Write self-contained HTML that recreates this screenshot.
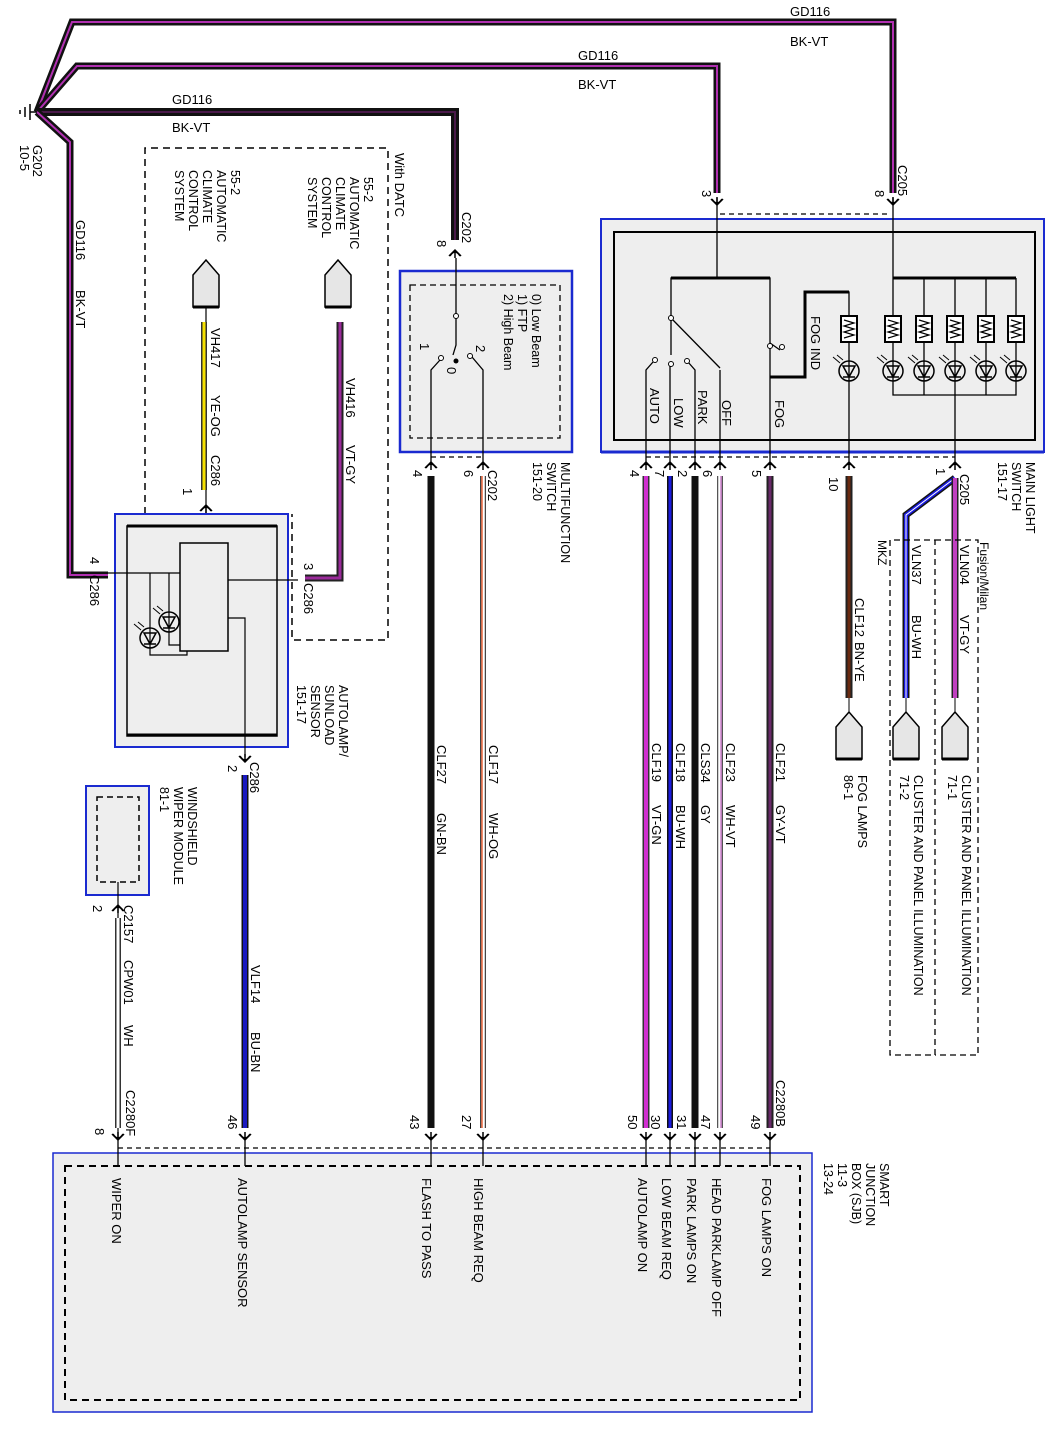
<!DOCTYPE html>
<html><head><meta charset="utf-8"><style>
html,body{margin:0;padding:0;background:#fff;}
svg{display:block;font-family:"Liberation Sans",sans-serif;font-size:13px;}
</style></head><body>
<svg width="1059" height="1435" viewBox="0 0 1059 1435" xmlns="http://www.w3.org/2000/svg">
<defs>
<g id="pd"><path d="M-6,6 L0,0 L6,6 M0,0 L0,8 M-5,6 Q0,-2 5,6" fill="none" stroke="#000" stroke-width="1.5"/></g>
<g id="pu"><path d="M-6,-6 L0,0 L6,-6 M0,0 L0,-8 M-5,-6 Q0,2 5,-6" fill="none" stroke="#000" stroke-width="1.5"/></g>
<g id="cn"><path d="M-13,15 L0,0 L13,15 L13,47 L-13,47 Z" fill="#e6e6e6" stroke="#000" stroke-width="1.5"/><line x1="-13" y1="47" x2="13" y2="47" stroke="#000" stroke-width="3"/></g>
<g id="led"><circle r="10" fill="none" stroke="#000" stroke-width="1.5"/><path d="M-6,-5 L6,-5 L0,6 Z M-6,6 L6,6" fill="none" stroke="#000" stroke-width="1.5"/><path d="M-16,-14 L-9,-8 M-12,-16 L-6,-11" stroke="#000" stroke-width="1"/></g>
<g id="res"><rect x="-8" y="-13" width="16" height="26" fill="#fff" stroke="#000" stroke-width="2"/><path d="M-5,-9 L5,-6 L-5,-3 L5,0 L-5,3 L5,6 L-5,9" fill="none" stroke="#000" stroke-width="1.2"/></g>
</defs>

<!-- ground wires -->
<g fill="none" stroke-linejoin="miter">
<path d="M37,112 L72,22 L893,22 L893,193" stroke="#111" stroke-width="7"/>
<path d="M37,112 L72,22 L893,22 L893,193" stroke="#b030b0" stroke-width="2"/>
<path d="M37,112 L77,66 L717,66 L717,193" stroke="#111" stroke-width="7"/>
<path d="M37,112 L77,66 L717,66 L717,193" stroke="#b030b0" stroke-width="2"/>
<path d="M37,112 L455,112 L455,240" stroke="#111" stroke-width="8"/>
<path d="M37,112 L455,112 L455,240" stroke="#4a1a4a" stroke-width="2"/>
<path d="M37,112 L70,142 L70,575 L108,575" stroke="#111" stroke-width="7"/>
<path d="M37,112 L70,142 L70,575 L108,575" stroke="#b030b0" stroke-width="2"/>
</g>
<path d="M30,104 L30,120 M25,107 L25,117 M20,110 L20,114 M30,112 L37,112" stroke="#000" stroke-width="1.5"/>
<text x="790" y="16">GD116</text><text x="790" y="46">BK-VT</text>
<text x="578" y="60">GD116</text><text x="578" y="89">BK-VT</text>
<text x="172" y="104">GD116</text><text x="172" y="132">BK-VT</text>
<text transform="translate(33,145) rotate(90)">G202</text>
<text transform="translate(20,145) rotate(90)">10-5</text>
<text transform="translate(76,220) rotate(90)">GD116</text>
<text transform="translate(76,290) rotate(90)">BK-VT</text>

<!-- With DATC dashed box -->
<path d="M145,514 L145,148 L388,148 L388,640 L292,640 L292,514" fill="none" stroke="#000" stroke-width="1.5" stroke-dasharray="7,5"/>
<text transform="translate(395,153) rotate(90)">With DATC</text>
<g font-size="12.5">
<text transform="translate(231,170) rotate(90)">55-2</text>
<text transform="translate(217,170) rotate(90)">AUTOMATIC</text>
<text transform="translate(203,170) rotate(90)">CLIMATE</text>
<text transform="translate(189,170) rotate(90)">CONTROL</text>
<text transform="translate(175,170) rotate(90)">SYSTEM</text>
<text transform="translate(364,177) rotate(90)">55-2</text>
<text transform="translate(350,177) rotate(90)">AUTOMATIC</text>
<text transform="translate(336,177) rotate(90)">CLIMATE</text>
<text transform="translate(322,177) rotate(90)">CONTROL</text>
<text transform="translate(308,177) rotate(90)">SYSTEM</text>
</g>
<use href="#cn" x="206" y="260"/>
<use href="#cn" x="338" y="260"/>
<line x1="206" y1="307" x2="206" y2="520" stroke="#000" stroke-width="1.2"/>
<line x1="204" y1="322" x2="204" y2="490" stroke="#333" stroke-width="6"/>
<line x1="204" y1="322" x2="204" y2="490" stroke="#f5e000" stroke-width="3"/>
<path d="M340,322 L340,578 L305,578" fill="none" stroke="#222" stroke-width="7"/>
<path d="M340,322 L340,578 L305,578" fill="none" stroke="#9a2a9a" stroke-width="3"/>
<text transform="translate(211,328) rotate(90)">VH417</text>
<text transform="translate(211,395) rotate(90)">YE-OG</text>
<text transform="translate(211,455) rotate(90)">C286</text>
<text transform="translate(183,488) rotate(90)">1</text>
<text transform="translate(346,378) rotate(90)">VH416</text>
<text transform="translate(346,445) rotate(90)">VT-GY</text>
<use href="#pd" x="206" y="505"/>

<!-- Autolamp sensor -->
<rect x="115" y="514" width="173" height="233" fill="#eee" stroke="#1a2ad0" stroke-width="2"/>
<rect x="127" y="526" width="150" height="210" fill="none" stroke="#000" stroke-width="1.5"/>
<line x1="127" y1="526" x2="277" y2="526" stroke="#000" stroke-width="3"/>
<line x1="127" y1="735" x2="277" y2="735" stroke="#000" stroke-width="3"/>
<rect x="180" y="543" width="48" height="108" fill="#eee" stroke="#000" stroke-width="1.5"/>
<path d="M108,573 L180,573 M228,580 L298,580 M228,618 L245,618 L245,757 M150,573 L150,655 L187,655 L187,651 M169,573 L169,645 L180,645" fill="none" stroke="#000" stroke-width="1.2"/>
<use href="#led" x="169" y="622"/>
<use href="#led" x="150" y="638"/>
<text transform="translate(90,557) rotate(90)">4</text>
<text transform="translate(90,575) rotate(90)">C286</text>
<text transform="translate(304,563) rotate(90)">3</text>
<text transform="translate(304,583) rotate(90)">C286</text>
<g font-size="12.5">
<text transform="translate(339,685) rotate(90)">AUTOLAMP/</text>
<text transform="translate(325,685) rotate(90)">SUNLOAD</text>
<text transform="translate(311,685) rotate(90)">SENSOR</text>
<text transform="translate(297,685) rotate(90)">151-17</text>
</g>
<use href="#pu" x="245" y="762"/>
<text transform="translate(228,765) rotate(90)">2</text>
<text transform="translate(250,762) rotate(90)">C286</text>
<line x1="245" y1="775" x2="245" y2="1128" stroke="#111" stroke-width="7"/>
<line x1="245" y1="775" x2="245" y2="1128" stroke="#1a1ac0" stroke-width="4"/>
<text transform="translate(251,965) rotate(90)">VLF14</text>
<text transform="translate(251,1032) rotate(90)">BU-BN</text>

<!-- wiper module -->
<rect x="86" y="786" width="63" height="109" fill="#eee" stroke="#1a2ad0" stroke-width="2"/>
<rect x="97" y="797" width="42" height="85" fill="none" stroke="#000" stroke-width="1.5" stroke-dasharray="6,4"/>
<g font-size="12.5">
<text transform="translate(188,787) rotate(90)">WINDSHIELD</text>
<text transform="translate(174,787) rotate(90)">WIPER MODULE</text>
<text transform="translate(160,787) rotate(90)">81-1</text>
</g>
<line x1="118" y1="882" x2="118" y2="1140" stroke="#000" stroke-width="1.2"/>
<use href="#pd" x="118" y="905"/>
<line x1="118" y1="918" x2="118" y2="1128" stroke="#333" stroke-width="6"/>
<line x1="118" y1="918" x2="118" y2="1128" stroke="#fff" stroke-width="3"/>
<text transform="translate(93,905) rotate(90)">2</text>
<text transform="translate(124,905) rotate(90)">C2157</text>
<text transform="translate(124,960) rotate(90)">CPW01</text>
<text transform="translate(124,1025) rotate(90)">WH</text>
<text transform="translate(126,1090) rotate(90)">C2280F</text>
<text transform="translate(95,1128) rotate(90)">8</text>
<text transform="translate(228,1115) rotate(90)">46</text>

<!-- Multifunction switch -->
<use href="#pd" x="455" y="250"/>
<text transform="translate(437,240) rotate(90)">8</text>
<text transform="translate(462,212) rotate(90)">C202</text>
<rect x="400" y="271" width="172" height="181" fill="#eee" stroke="#1a2ad0" stroke-width="2.5"/>
<rect x="410" y="285" width="150" height="153" fill="none" stroke="#000" stroke-width="1.3" stroke-dasharray="6,4"/>
<g font-size="12.5">
<text transform="translate(532,294) rotate(90)">0) Low Beam</text>
<text transform="translate(518,294) rotate(90)">1) FTP</text>
<text transform="translate(504,294) rotate(90)">2) High Beam</text>
</g>
<path d="M456,258 L456,315 M456,318 L456,345 L453,355 M431,462 L431,370 L440,360 M483,462 L483,370 L472,357" fill="none" stroke="#000" stroke-width="1.3"/>
<circle cx="456" cy="316" r="2.5" fill="#fff" stroke="#000"/><circle cx="441" cy="358" r="2.5" fill="#fff" stroke="#000"/><circle cx="470" cy="356" r="2.5" fill="#fff" stroke="#000"/><circle cx="456" cy="361" r="2.5" fill="#000"/>
<text transform="translate(420,343) rotate(90)">1</text>
<text transform="translate(476,345) rotate(90)">2</text>
<text transform="translate(447,367) rotate(90)">0</text>
<g font-size="12.5">
<text transform="translate(561,462) rotate(90)">MULTIFUNCTION</text>
<text transform="translate(547,462) rotate(90)">SWITCH</text>
<text transform="translate(533,462) rotate(90)">151-20</text>
</g>
<line x1="431" y1="457" x2="483" y2="457" stroke="#000" stroke-width="1.3" stroke-dasharray="5,4"/>
<use href="#pd" x="431" y="462"/><use href="#pd" x="483" y="462"/>
<text transform="translate(413,470) rotate(90)">4</text>
<text transform="translate(464,470) rotate(90)">6</text>
<text transform="translate(488,470) rotate(90)">C202</text>
<line x1="431" y1="476" x2="431" y2="1128" stroke="#111" stroke-width="7"/>
<line x1="483" y1="476" x2="483" y2="1128" stroke="#444" stroke-width="6"/>
<line x1="483" y1="476" x2="483" y2="1128" stroke="#fff" stroke-width="3.5"/>
<line x1="482" y1="476" x2="482" y2="1128" stroke="#e85020" stroke-width="1.3"/>
<text transform="translate(437,745) rotate(90)">CLF27</text>
<text transform="translate(437,813) rotate(90)">GN-BN</text>
<text transform="translate(489,745) rotate(90)">CLF17</text>
<text transform="translate(489,813) rotate(90)">WH-OG</text>
<text transform="translate(410,1115) rotate(90)">43</text>
<text transform="translate(462,1115) rotate(90)">27</text>

<!-- main light switch -->
<use href="#pu" x="717" y="205"/><use href="#pu" x="893" y="205"/>
<line x1="720" y1="214" x2="890" y2="214" stroke="#000" stroke-width="1.3" stroke-dasharray="5,4"/>
<text transform="translate(702,190) rotate(90)">3</text>
<text transform="translate(875,190) rotate(90)">8</text>
<text transform="translate(898,165) rotate(90)">C205</text>
<rect x="601" y="219" width="443" height="233" fill="#eee" stroke="#1a2ad0" stroke-width="2"/>
<line x1="601" y1="452" x2="1044" y2="452" stroke="#1a2ad0" stroke-width="3"/>
<rect x="614" y="232" width="421" height="208" fill="none" stroke="#000" stroke-width="2"/>
<g fill="none" stroke="#000" stroke-width="1.3">
<path d="M717,198 L717,278"/>
<path d="M671,355 L671,278 L770,278 L770,345"/>
<path d="M671,318 L720,368"/>
<path d="M646,462 L646,370 L653,362 M670,462 L670,365 M695,462 L695,370 L688,362 M720,462 L720,370"/>
<path d="M770,343 L780,350 M770,348 L770,462"/>
<path d="M770,377 L805,377 L805,292 L849,292 L849,462"/>
<path d="M893,198 L893,278 L1016,278 M893,278 L893,395 L1016,395 L1016,278 M924,278 L924,395 M955,278 L955,462 M986,278 L986,395"/>
</g>
<path d="M671,278 L770,278 M770,377 L805,377 L805,292 L849,292 M893,278 L1016,278" fill="none" stroke="#000" stroke-width="3"/>
<circle cx="671" cy="318" r="2.5" fill="#fff" stroke="#000"/><circle cx="655" cy="360" r="2.5" fill="#fff" stroke="#000"/><circle cx="671" cy="364" r="2.5" fill="#fff" stroke="#000"/><circle cx="687" cy="361" r="2.5" fill="#fff" stroke="#000"/><circle cx="770" cy="346" r="2.5" fill="#fff" stroke="#000"/><circle cx="782" cy="347" r="2.5" fill="#fff" stroke="#000"/>
<use href="#res" x="849" y="329"/><use href="#res" x="893" y="329"/><use href="#res" x="924" y="329"/><use href="#res" x="955" y="329"/><use href="#res" x="986" y="329"/><use href="#res" x="1016" y="329"/>
<use href="#led" x="849" y="371"/><use href="#led" x="893" y="371"/><use href="#led" x="924" y="371"/><use href="#led" x="955" y="371"/><use href="#led" x="986" y="371"/><use href="#led" x="1016" y="371"/>
<text transform="translate(650,388) rotate(90)">AUTO</text>
<text transform="translate(674,398) rotate(90)">LOW</text>
<text transform="translate(698,390) rotate(90)">PARK</text>
<text transform="translate(722,400) rotate(90)">OFF</text>
<text transform="translate(775,400) rotate(90)">FOG</text>
<text transform="translate(811,316) rotate(90)">FOG IND</text>
<line x1="646" y1="457" x2="955" y2="457" stroke="#000" stroke-width="1.3" stroke-dasharray="5,4"/>
<use href="#pd" x="646" y="462"/><use href="#pd" x="670" y="462"/><use href="#pd" x="695" y="462"/><use href="#pd" x="720" y="462"/><use href="#pd" x="770" y="462"/><use href="#pd" x="849" y="462"/><use href="#pd" x="955" y="462"/>
<text transform="translate(630,470) rotate(90)">4</text>
<text transform="translate(655,470) rotate(90)">7</text>
<text transform="translate(678,470) rotate(90)">2</text>
<text transform="translate(703,470) rotate(90)">6</text>
<text transform="translate(752,470) rotate(90)">5</text>
<text transform="translate(829,477) rotate(90)">10</text>
<text transform="translate(936,468) rotate(90)">1</text>
<text transform="translate(960,474) rotate(90)">C205</text>
<g font-size="12.5">
<text transform="translate(1026,462) rotate(90)">MAIN LIGHT</text>
<text transform="translate(1012,462) rotate(90)">SWITCH</text>
<text transform="translate(998,462) rotate(90)">151-17</text>
</g>
<!-- wires from main light switch -->
<line x1="646" y1="476" x2="646" y2="1128" stroke="#333" stroke-width="7"/>
<line x1="646" y1="476" x2="646" y2="1128" stroke="#d030d0" stroke-width="4"/>
<line x1="670" y1="476" x2="670" y2="1128" stroke="#111" stroke-width="6"/>
<line x1="670" y1="476" x2="670" y2="1128" stroke="#1a1ae0" stroke-width="3"/>
<line x1="695" y1="476" x2="695" y2="1128" stroke="#111" stroke-width="7"/>
<line x1="720" y1="476" x2="720" y2="1128" stroke="#555" stroke-width="6"/>
<line x1="720" y1="476" x2="720" y2="1128" stroke="#fff" stroke-width="3.5"/>
<line x1="721" y1="476" x2="721" y2="1128" stroke="#c060c0" stroke-width="1.2"/>
<line x1="770" y1="476" x2="770" y2="1128" stroke="#222" stroke-width="7"/>
<line x1="770" y1="476" x2="770" y2="1128" stroke="#6a2a6a" stroke-width="3"/>
<line x1="849" y1="476" x2="849" y2="698" stroke="#222" stroke-width="7"/>
<line x1="849" y1="476" x2="849" y2="698" stroke="#6a2a10" stroke-width="3"/>
<path d="M955,478 L906,515 L906,698" fill="none" stroke="#111" stroke-width="7"/>
<path d="M955,478 L906,515 L906,698" fill="none" stroke="#1a1ae0" stroke-width="4"/>
<path d="M955,478 L906,515 L906,698" fill="none" stroke="#fff" stroke-width="1"/>
<line x1="955" y1="478" x2="955" y2="698" stroke="#222" stroke-width="7"/>
<line x1="955" y1="478" x2="955" y2="698" stroke="#c040c0" stroke-width="4"/>
<text transform="translate(652,743) rotate(90)">CLF19</text>
<text transform="translate(652,805) rotate(90)">VT-GN</text>
<text transform="translate(676,743) rotate(90)">CLF18</text>
<text transform="translate(676,805) rotate(90)">BU-WH</text>
<text transform="translate(701,743) rotate(90)">CLS34</text>
<text transform="translate(701,805) rotate(90)">GY</text>
<text transform="translate(726,743) rotate(90)">CLF23</text>
<text transform="translate(726,805) rotate(90)">WH-VT</text>
<text transform="translate(776,743) rotate(90)">CLF21</text>
<text transform="translate(776,805) rotate(90)">GY-VT</text>
<text transform="translate(776,1080) rotate(90)">C2280B</text>
<text transform="translate(628,1115) rotate(90)">50</text>
<text transform="translate(651,1115) rotate(90)">30</text>
<text transform="translate(677,1115) rotate(90)">31</text>
<text transform="translate(701,1115) rotate(90)">47</text>
<text transform="translate(751,1115) rotate(90)">49</text>
<text transform="translate(855,598) rotate(90)">CLF12</text>
<text transform="translate(855,642) rotate(90)">BN-YE</text>
<!-- cluster dashed boxes -->
<path d="M890,540 L890,1055 L935,1055 L935,540 Z M935,540 L978,540 L978,1055 L935,1055" fill="none" stroke="#000" stroke-width="1.3" stroke-dasharray="6,4"/>
<text transform="translate(878,540) rotate(90)" font-size="12">MKZ</text>
<text transform="translate(980,542) rotate(90)" font-size="12">Fusion/Milan</text>
<text transform="translate(912,545) rotate(90)">VLN37</text>
<text transform="translate(912,615) rotate(90)">BU-WH</text>
<text transform="translate(960,545) rotate(90)">VLN04</text>
<text transform="translate(960,615) rotate(90)">VT-GY</text>
<use href="#cn" x="849" y="712"/><use href="#cn" x="906" y="712"/><use href="#cn" x="955" y="712"/>
<line x1="849" y1="698" x2="849" y2="712" stroke="#000"/><line x1="906" y1="698" x2="906" y2="712" stroke="#000"/><line x1="955" y1="698" x2="955" y2="712" stroke="#000"/>
<g font-size="12.5">
<text transform="translate(858,775) rotate(90)">FOG LAMPS</text>
<text transform="translate(844,775) rotate(90)">86-1</text>
<text transform="translate(914,775) rotate(90)">CLUSTER AND PANEL ILLUMINATION</text>
<text transform="translate(900,775) rotate(90)">71-2</text>
<text transform="translate(962,775) rotate(90)">CLUSTER AND PANEL ILLUMINATION</text>
<text transform="translate(948,775) rotate(90)">71-1</text>
</g>

<!-- SJB -->
<line x1="118" y1="1148" x2="770" y2="1148" stroke="#000" stroke-width="1.3" stroke-dasharray="5,4"/>
<rect x="53" y="1153" width="759" height="259" fill="#eee" stroke="#1a2ad0" stroke-width="1.5"/>
<rect x="65" y="1166" width="735" height="234" fill="none" stroke="#000" stroke-width="2" stroke-dasharray="7,5"/>
<g stroke="#000" stroke-width="1.3">
<line x1="118" y1="1140" x2="118" y2="1166"/><line x1="245" y1="1140" x2="245" y2="1166"/><line x1="431" y1="1140" x2="431" y2="1166"/><line x1="483" y1="1140" x2="483" y2="1166"/><line x1="646" y1="1140" x2="646" y2="1166"/><line x1="670" y1="1140" x2="670" y2="1166"/><line x1="695" y1="1140" x2="695" y2="1166"/><line x1="720" y1="1140" x2="720" y2="1166"/><line x1="770" y1="1140" x2="770" y2="1166"/>
</g>
<use href="#pu" x="118" y="1140"/><use href="#pu" x="245" y="1140"/><use href="#pu" x="431" y="1140"/><use href="#pu" x="483" y="1140"/><use href="#pu" x="646" y="1140"/><use href="#pu" x="670" y="1140"/><use href="#pu" x="695" y="1140"/><use href="#pu" x="720" y="1140"/><use href="#pu" x="770" y="1140"/>
<text transform="translate(112,1178) rotate(90)">WIPER ON</text>
<text transform="translate(238,1178) rotate(90)">AUTOLAMP SENSOR</text>
<text transform="translate(422,1178) rotate(90)">FLASH TO PASS</text>
<text transform="translate(474,1178) rotate(90)">HIGH BEAM REQ</text>
<text transform="translate(638,1178) rotate(90)">AUTOLAMP ON</text>
<text transform="translate(662,1178) rotate(90)">LOW BEAM REQ</text>
<text transform="translate(687,1178) rotate(90)">PARK LAMPS ON</text>
<text transform="translate(712,1178) rotate(90)">HEAD PARKLAMP OFF</text>
<text transform="translate(762,1178) rotate(90)">FOG LAMPS ON</text>
<g font-size="12.5">
<text transform="translate(880,1163) rotate(90)">SMART</text>
<text transform="translate(866,1163) rotate(90)">JUNCTION</text>
<text transform="translate(852,1163) rotate(90)">BOX (SJB)</text>
<text transform="translate(838,1163) rotate(90)">11-3</text>
<text transform="translate(824,1163) rotate(90)">13-24</text>
</g>
</svg>
</body></html>
